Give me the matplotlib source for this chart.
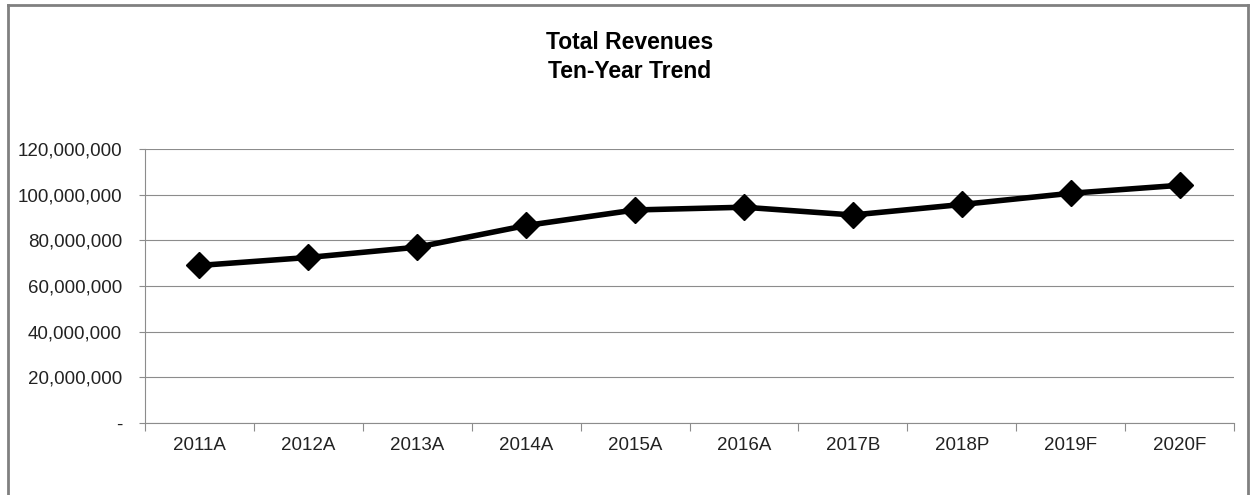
import matplotlib.pyplot as plt
from matplotlib.lines import Line2D
from matplotlib.ticker import FuncFormatter

plt.rcParams['font.family'] = ['Liberation Sans', 'DejaVu Sans']

years = ['2011A', '2012A', '2013A', '2014A', '2015A',
         '2016A', '2017B', '2018P', '2019F', '2020F']
revenues = [69.0e6, 72.5e6, 77.0e6, 86.5e6, 93.3e6,
            94.5e6, 91.1e6, 95.7e6, 100.6e6, 104.1e6]
y_ticks = [0, 20e6, 40e6, 60e6, 80e6, 100e6, 120e6]

fig = plt.figure(figsize=(12.56, 4.95), dpi=100)
ax = fig.add_axes([145/1256, 72/495, 1089/1256, 274/495])

x = list(range(len(years)))
ax.plot(x, revenues, color='black', linewidth=4, marker='D',
        markersize=13, markerfacecolor='black', markeredgecolor='black',
        solid_joinstyle='round', zorder=3)

ax.set_xlim(-0.5, len(years) - 0.5)
ax.set_ylim(0, 120e6)
ax.set_yticks(y_ticks)
ax.yaxis.set_major_formatter(FuncFormatter(lambda v, p: '-' if v == 0 else f'{v:,.0f}'))
ax.grid(axis='y', color='#8c8c8c', linewidth=0.8)
ax.set_axisbelow(True)

ax.set_xticks(x)
ax.set_xticklabels(years)
ax.set_xticks([i - 0.5 for i in range(len(years) + 1)], minor=True)
ax.tick_params(axis='x', which='major', length=0, pad=10, labelsize=13.5, colors='#222222')
ax.tick_params(axis='x', which='minor', length=5.5, width=0.8, color='#8c8c8c')
ax.tick_params(axis='y', length=4.5, width=0.8, color='#8c8c8c', pad=12,
               labelsize=13.5, labelcolor='#222222')

for s in ['top', 'right']:
    ax.spines[s].set_visible(False)
for s in ['left', 'bottom']:
    ax.spines[s].set_color('#8c8c8c')
    ax.spines[s].set_linewidth(0.8)

fig.text(630/1256, 1 - 57/495, 'Total Revenues\nTen-Year Trend', ha='center',
         va='center', fontsize=16.5, fontweight='bold', linespacing=1.35)

# outer chart border (no bottom edge visible)
bc = '#808080'
fig.add_artist(Line2D([8/1256, 8/1256], [0, 1 - 5/495], color=bc, linewidth=2))
fig.add_artist(Line2D([8/1256, 1248/1256], [1 - 5/495, 1 - 5/495], color=bc, linewidth=2))
fig.add_artist(Line2D([1248/1256, 1248/1256], [0, 1 - 5/495], color=bc, linewidth=2))

plt.savefig('out.png', dpi=100)
